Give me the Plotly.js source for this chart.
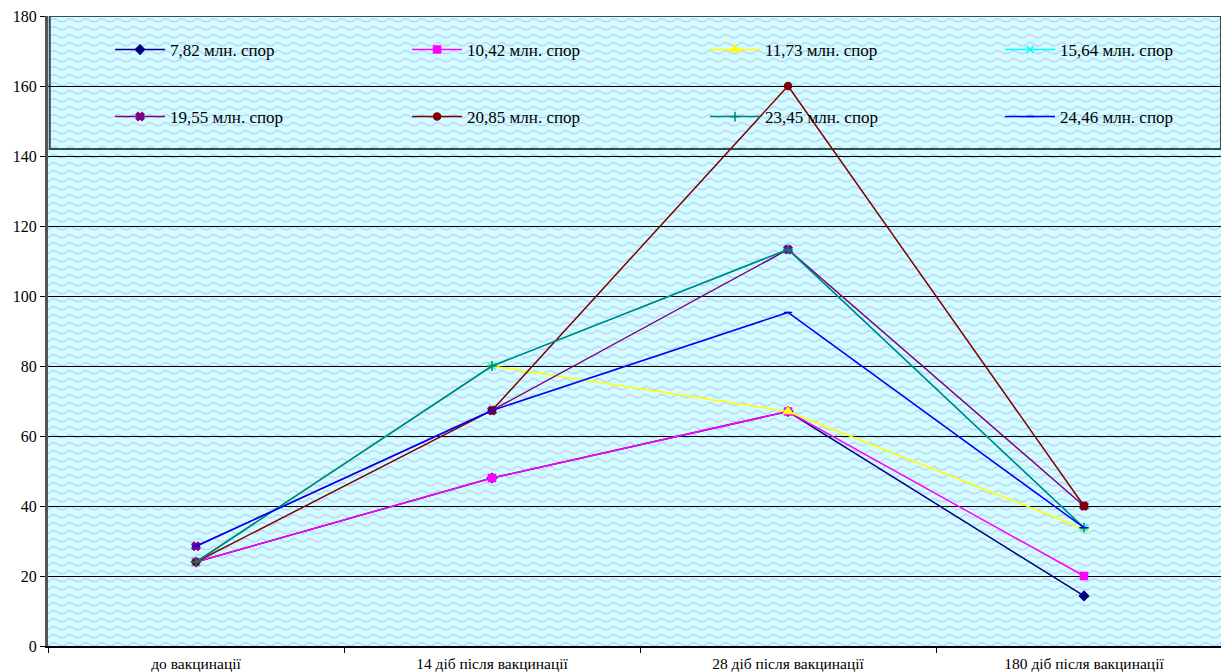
<!DOCTYPE html>
<html>
<head>
<meta charset="utf-8">
<script src="https://cdn.plot.ly/plotly-3.0.1.min.js"></script>
<style>
  html, body { margin: 0; padding: 0; background: #ffffff; overflow: hidden; }
  #chart { width: 1221px; height: 672px; }
</style>
</head>
<body>
<div id="chart"></div>
<script>
// Time points of the antibody titre measurement
const categories = ['до вакцинації', '14 діб після вакцинації', '28 діб після вакцинації', '180 діб після вакцинації'];

// Vaccine doses (series names)
const seriesNames = ['7,82 млн. спор', '10,42 млн. спор', '11,73 млн. спор', '15,64 млн. спор',
                     '19,55 млн. спор', '20,85 млн. спор', '23,45 млн. спор', '24,46 млн. спор'];

// Titre values per dose
const dose782  = [24, 48, 67, 14.3];
const dose1042 = [24, 48, 67, 20];
const dose1173 = [24, 80, 67, 33.5];
const dose1564 = [24, 80, 113.3, 33.8];
const dose1955 = [28.5, 67.3, 113.3, 40];
const dose2085 = [24, 67.3, 160, 40];
const dose2345 = [24, 80, 113.3, 33.8];
const dose2446 = [28.5, 67.3, 95.3, 33.8];

const yTicks = [0, 20, 40, 60, 80, 100, 120, 140, 160, 180];

const seriesValues = [dose782, dose1042, dose1173, dose1564, dose1955, dose2085, dose2345, dose2446];
const colors  = ['#000080', '#FF00FF', '#FFFF00', '#00FFFF', '#800080', '#800000', '#008080', '#0000FF'];
const symbols = ['diamond', 'square', 'triangle-up', 'x-thin-open', 'x', 'circle', 'cross-thin-open', 'line-ew-open'];
const sizes   = [7, 7, 8, 7, 7, 7, 7, 6];

// One legend per series, laid out as a 4 x 2 grid inside the top block
const legendIds = ['legend', 'legend2', 'legend3', 'legend4', 'legend5', 'legend6', 'legend7', 'legend8'];
const legendCols = [0.0529, 0.3061, 0.5601, 0.8116];
const legendRows = [0.946, 0.8397];

const traces = seriesValues.map((vals, i) => ({
  type: 'scatter',
  mode: 'lines+markers',
  name: seriesNames[i],
  x: categories,
  y: vals,
  line: { color: colors[i], width: 1.5 },
  marker: { color: colors[i], symbol: symbols[i], size: sizes[i],
            line: { color: colors[i], width: 1.5 } },
  legend: legendIds[i],
  cliponaxis: false
}));

// Wavy background texture of the plot area
const W = 1173, H = 630;
const svg =
  '<svg xmlns="http://www.w3.org/2000/svg" width="' + W + '" height="' + H + '" viewBox="0 0 ' + W + ' ' + H + '">' +
  '<defs><pattern id="w" width="16" height="8" patternUnits="userSpaceOnUse">' +
  '<rect width="16" height="8" fill="#CCFFFF"/>' +
  '<path d="M0,5.5 C2,5.5 3,2.5 6,2.5 C9,2.5 10,5.5 12,5.5 L16,5.5" fill="none" stroke="#D6C8F6" stroke-width="1.3"/>' +
  '</pattern></defs>' +
  '<rect width="' + W + '" height="' + H + '" fill="url(#w)"/></svg>';
const bgImage = 'data:image/svg+xml;charset=utf-8,' + encodeURIComponent(svg);

const fontFamily = 'Liberation Serif, Times New Roman, serif';

const layout = {
  width: 1221,
  height: 672,
  margin: { l: 48, r: 0, t: 16, b: 26, pad: 0 },
  paper_bgcolor: '#ffffff',
  plot_bgcolor: '#CCFFFF',
  font: { family: fontFamily, size: 16, color: '#000000' },
  showlegend: true,
  xaxis: {
    type: 'category',
    range: [-0.5, -0.5 + 1173 / 296],
    tickson: 'boundaries',
    ticks: 'outside',
    ticklen: 5,
    tickcolor: '#000000',
    ticklabelstandoff: 3,
    showgrid: false,
    showline: true,
    linecolor: '#000000',
    linewidth: 1.5,
    tickfont: { family: fontFamily, size: 15.5, color: '#000000' },
    fixedrange: true
  },
  yaxis: {
    range: [0, 180],
    tickvals: yTicks,
    ticktext: yTicks.map(String),
    ticks: 'outside',
    ticklen: 5,
    tickcolor: '#000000',
    showgrid: true,
    gridcolor: '#000000',
    gridwidth: 1,
    zeroline: false,
    showline: true,
    linecolor: '#555555',
    linewidth: 3,
    tickfont: { family: fontFamily, size: 16, color: '#000000' },
    fixedrange: true
  },
  images: [{
    source: bgImage,
    xref: 'paper', yref: 'paper',
    x: 0, y: 1, sizex: 1, sizey: 1,
    xanchor: 'left', yanchor: 'top',
    sizing: 'stretch',
    layer: 'below'
  }],
  shapes: [{
    // frame of the legend block
    type: 'rect',
    xref: 'paper', yref: 'y',
    x0: 0.0015, x1: 1.0, y0: 142, y1: 180,
    line: { color: '#3a4a4a', width: 2 },
    fillcolor: 'rgba(0,0,0,0)',
    layer: 'below'
  }]
};

legendIds.forEach((id, i) => {
  layout[id] = {
    orientation: 'h',
    bgcolor: 'rgba(0,0,0,0)',
    borderwidth: 0,
    font: { family: fontFamily, size: 17, color: '#000000' },
    itemwidth: 50,
    xanchor: 'left',
    yanchor: 'middle',
    x: legendCols[i % 4],
    y: legendRows[Math.floor(i / 4)]
  };
});

Plotly.newPlot('chart', traces, layout, { displayModeBar: false, staticPlot: true });
</script>
</body>
</html>
